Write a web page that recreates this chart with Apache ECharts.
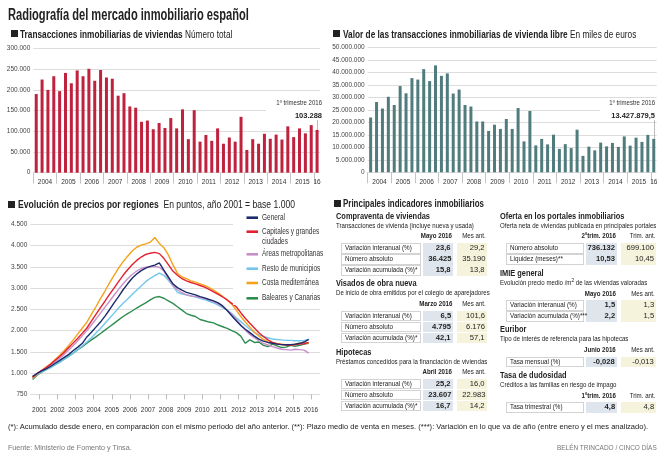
<!DOCTYPE html>
<html><head><meta charset="utf-8">
<script src="https://cdn.jsdelivr.net/npm/echarts@6/dist/echarts.min.js"></script>
<style>
html,body{margin:0;padding:0;background:#fff;}
#wrap{position:relative;width:664px;height:460px;overflow:hidden;font-family:'Liberation Sans',Arial,sans-serif;color:#222;}
#chart{position:absolute;left:0;top:0;width:664px;height:460px;}
.t{position:absolute;white-space:nowrap;line-height:12px;height:12px;}
.cell{position:absolute;box-sizing:border-box;}
</style></head>
<body><div id="wrap"><div id="chart"></div></div>
<script>
// ---------- DATA ----------
const quarterYears = ['2004','2005','2006','2007','2008','2009','2010','2011','2012','2013','2014','2015','16'];
const transacciones = [190000,225000,200000,233000,197000,241000,216000,247000,233000,251000,222000,248000,230000,227000,186000,192000,160000,157000,123000,126000,105000,120000,108000,132000,107000,153000,81000,151000,75000,91000,77000,107000,70000,85000,75000,135000,55000,81000,70000,94000,82000,92000,80000,112000,86000,107000,95000,115000,103288];
const valorTransacciones = [22000000,28200000,25600000,30300000,27000000,34600000,31700000,37800000,37200000,41400000,36600000,42900000,38700000,39700000,31600000,33200000,27000000,26400000,20400000,20400000,16600000,19100000,17400000,21400000,17400000,25800000,12400000,24600000,10800000,13400000,11200000,15100000,9400000,11300000,9700000,17100000,6600000,10300000,8800000,11900000,10400000,11800000,10200000,14400000,10700000,13900000,12200000,15000000,13427879.5];

const regionNames = ['General','Capitales y grandes ciudades','Áreas metropolitanas','Resto de municipios','Costa mediterránea','Baleares y Canarias'];
const regionColors = ['#1d2b6c','#e3202f','#c890c9','#72c7ea','#f6a11c','#2f8c4f'];
// quarterly readings, 2001 Q1 .. 2016 Q2
const general = [920,990,1050,1100, 1160,1230,1300,1370, 1440,1530,1610,1700, 1850,1960,2080,2200, 2340,2490,2650,2800, 2960,3100,3230,3330, 3410,3470,3510,3540, 3590,3420,3260,3100, 3010,2950,2900,2870, 2840,2800,2770,2730, 2700,2650,2580,2470, 2350,2230,2120,2030, 1950,1870,1800,1750, 1720,1700,1680,1670, 1665,1670,1680,1700, 1730,1790];
const capitales = [900,990,1060,1130, 1210,1300,1390,1490, 1600,1710,1820,1940, 2060,2220,2380,2540, 2690,2850,3000,3150, 3300,3430,3550,3650, 3730,3790,3820,3840, 3810,3700,3550,3400, 3300,3220,3170,3130, 3100,3060,3020,2970, 2910,2850,2790,2720, 2640,2560,2420,2290, 2170,2060,1950,1860, 1780,1720,1690,1670, 1660,1650,1670,1680, 1690,1720];
const areasMetro = [900,990,1060,1120, 1190,1270,1350,1440, 1540,1650,1760,1880, 2000,2130,2270,2410, 2550,2690,2830,2970, 3100,3220,3320,3400, 3460,3490,3500,3510, 3490,3400,3220,3060, 2960,2890,2840,2810, 2800,2780,2750,2720, 2680,2630,2560,2470, 2380,2260,2130,2010, 1910,1830,1760,1700, 1660,1620,1590,1560, 1550,1540,1560,1550, 1540,1470];
const restoMunicipios = [880,960,1020,1080, 1130,1190,1250,1320, 1390,1470,1550,1640, 1730,1830,1940,2050, 2170,2290,2410,2530, 2640,2740,2850,2950, 3050,3150,3230,3290, 3350,3300,3180,3050, 2900,2860,2840,2820, 2790,2760,2730,2690, 2650,2600,2540,2480, 2400,2300,2210,2120, 2030,1960,1900,1860, 1830,1800,1790,1780, 1770,1770,1760,1760, 1770,1790];
const costaMed = [880,980,1060,1140, 1220,1320,1420,1530, 1650,1780,1920,2060, 2200,2380,2560,2750, 2930,3120,3300,3470, 3620,3750,3870,3960, 4010,4040,4080,4190, 4050,3950,3780,3550, 3350,3260,3220,3170, 3140,3100,3060,3010, 2950,2880,2800,2720, 2620,2480,2330,2200, 2080,1960,1870,1790, 1730,1700,1690,1680, 1670,1660,1680,1700, 1700,1710];
const baleares = [850,950,1020,1080, 1140,1200,1260,1330, 1400,1470,1550,1620, 1700,1780,1850,1930, 2010,2090,2170,2250, 2330,2400,2460,2530, 2590,2650,2720,2780, 2800,2760,2700,2640, 2560,2480,2400,2360, 2330,2260,2230,2200, 2180,2130,2090,2050, 2000,1950,1870,1700, 1780,1720,1730,1650, 1620,1680,1640,1600, 1610,1650,1630,1650, 1680,1700];
const priceYearLabels = [2001,2002,2003,2004,2005,2006,2007,2008,2009,2010,2011,2012,2013,2014,2015,2016];

// tables
const compraventaHead = ['Mayo 2016','Mes ant.'];
const compraventaRows = [['Variación interanual (%)','23,6','29,2'],['Número absoluto','36.425','35.190'],['Variación acumulada (%)*','15,8','13,8']];
const visadosHead = ['Marzo 2016','Mes ant.'];
const visadosRows = [['Variación interanual (%)','6,5','101,6'],['Número absoluto','4.795','6.176'],['Variación acumulada (%)*','42,1','57,1']];
const hipotecasHead = ['Abril 2016','Mes ant.'];
const hipotecasRows = [['Variación interanual (%)','25,2','16,0'],['Número absoluto','23.607','22.983'],['Variación acumulada (%)*','16,7','14,2']];
const ofertaHead = ['2ºtrim. 2016','Trim. ant.'];
const ofertaRows = [['Número absoluto','736.132','699.100'],['Liquidez (meses)**','10,53','10,45']];
const imieHead = ['Mayo 2016','Mes ant.'];
const imieRows = [['Variación interanual (%)','1,5','1,3'],['Variación acumulada (%)***','2,2','1,5']];
const euriborHead = ['Junio 2016','Mes ant.'];
const euriborRows = [['Tasa mensual (%)','-0,028','-0,013']];
const dudosidadHead = ['1ºtrim. 2016','Trim. ant.'];
const dudosidadRows = [['Tasa trimestral (%)','4,8','4,8']];

// ---------- HTML TEXT ----------
const wrap = document.getElementById('wrap');
function txt(x, y, html, style, o){
  o = o || {};
  const d = document.createElement('div');
  d.className = 't';
  d.innerHTML = html;
  d.style.top = (y - 6) + 'px';
  if (o.right) { d.style.right = (664 - x) + 'px'; d.style.transformOrigin = 'right center'; }
  else { d.style.left = x + 'px'; d.style.transformOrigin = 'left center'; }
  if (style) d.style.cssText += style;
  wrap.appendChild(d);
  let sx = o.sx || 1;
  if (o.fit) sx = o.fit / d.offsetWidth;
  d.style.transform = 'scaleX(' + sx + ')';
  return d;
}
function box(x, y, w, h, style){
  const d = document.createElement('div');
  d.className = 'cell';
  d.style.left = x + 'px'; d.style.top = y + 'px'; d.style.width = w + 'px'; d.style.height = h + 'px';
  d.style.cssText += style;
  wrap.appendChild(d);
}
function header(sqx, y, tx, html, w){
  box(sqx, y - 3.5, 7, 7, 'background:#222;');
  txt(tx, y, html, 'font-size:11px;', {fit:w});
}
txt(7.5, 14.5, 'Radiografía del mercado inmobiliario español', 'font-size:16px;font-weight:bold;color:#222;', {fit:241});
header(10.5, 33.5, 20, '<b>Transacciones inmobiliarias de viviendas</b> <span style="font-weight:normal">Número total</span>', 212);
header(333, 33.5, 342.5, '<b>Valor de las transacciones inmobiliarias de vivienda libre</b> <span>En miles de euros</span>', 293);
header(8.3, 204, 17.7, '<b>Evolución de precios por regiones</b>&nbsp; <span>En puntos, año 2001 = base 1.000</span>', 277);
header(334, 203, 342.7, '<b>Principales indicadores inmobiliarios</b>', 141);

function table(x0, xl1, xb0, xb1, xc0, xc1, yTitle, title, sub, head, rows, yHead, yRow0){
  txt(x0, yTitle, title, 'font-size:9.5px;font-weight:bold;', {sx:0.78});
  txt(x0, yTitle + 10.3, sub, 'font-size:7px;', {sx:0.87});
  txt(xb1 - 1, yHead, head[0], 'font-size:7.5px;font-weight:bold;', {right:true, sx:0.82});
  txt(xc1 - 1, yHead, head[1], 'font-size:7.5px;', {right:true, sx:0.82});
  rows.forEach((r, i) => {
    const y = yRow0 + i * 11.2;
    box(xl1, y - 5, xb0 - xl1 - 2, 10.5, 'border:1px solid #d3d3d3;');
    box(xb0, y - 5, xb1 - xb0, 10.5, 'background:#dfe5ec;');
    box(xc0, y - 5, xc1 - xc0, 10.5, 'background:#f6f3dc;');
    txt(xl1 + 4, y, r[0], 'font-size:7px;', {sx:0.9});
    txt(xb1 - 2, y, r[1], 'font-size:8px;font-weight:bold;', {right:true, sx:0.95});
    txt(xc1 - 2, y, r[2], 'font-size:8px;', {right:true, sx:0.95});
  });
}
// left column
table(335.5, 341, 423, 453, 457, 487, 215.5, 'Compraventa de viviendas', 'Transacciones de vivienda (incluye nueva y usada)', compraventaHead, compraventaRows, 236, 248);
table(335.5, 341, 423, 453, 457, 487, 282.5, 'Visados de obra nueva', 'De inicio de obra emitidos por el colegio de aparejadores', visadosHead, visadosRows, 304, 315.5);
table(335.5, 341, 423, 453, 457, 487, 351.5, 'Hipotecas', 'Préstamos concedidos para la financiación de viviendas', hipotecasHead, hipotecasRows, 372, 383.5);
// right column
table(500, 506, 586, 617, 621, 656, 215.5, 'Oferta en los portales inmobiliarios', 'Oferta neta de viviendas publicada en principales portales', ofertaHead, ofertaRows, 236, 248);
table(500, 506, 586, 617, 621, 656, 272.5, 'IMIE general', 'Evolución precio medio /m<sup style="font-size:5.5px;line-height:0">2</sup> de las viviendas valoradas', imieHead, imieRows, 293.5, 305);
table(500, 506, 586, 617, 621, 656, 328.5, 'Euribor', 'Tipo de interés de referencia para las hipotecas', euriborHead, euriborRows, 350, 361.5);
table(500, 506, 586, 617, 621, 656, 375, 'Tasa de dudosidad', 'Créditos a las familias en riesgo de impago', dudosidadHead, dudosidadRows, 395.5, 407);

txt(8, 427, '(*): Acumulado desde enero, en comparación con el mismo periodo del año anterior. (**): Plazo medio de venta en meses. (***): Variación en lo que va de año (entre enero y el mes analizado).', 'font-size:7.5px;', {fit:640});
txt(8, 448, 'Fuente: Ministerio de Fomento y Tinsa.', 'font-size:7.5px;color:#777;', {fit:124});
txt(657, 448, 'BELÉN TRINCADO / CINCO DÍAS', 'font-size:7.5px;color:#777;', {right:true, fit:100});

// ---------- CHART ----------
const FONT = "'Liberation Sans',Arial,sans-serif";
const dots = v => String(v).replace(/\B(?=(\d{3})+(?!\d))/g, '.');
const chart = echarts.init(document.getElementById('chart'));
const yearTicks = quarterYears.map((y, i) => i * 4).filter(v => v < 49);
const yearLabelPos = quarterYears.map((y, i) => i < 12 ? i * 4 + 2 : 48.5);
const yearLabelFmt = v => quarterYears[v === 48.5 ? 12 : (v - 2) / 4];
const monthTimes = general.map((v, i) => 2001 + (i * 3 + 1.5) / 12);
const priceSeries = [general, capitales, areasMetro, restoMunicipios, costaMed, baleares];
const drawOrder = [5, 3, 2, 4, 1, 0];

function barXAxis(gi){
  return {type:'value', gridIndex:gi, min:0, max:49, axisLine:{show:false}, splitLine:{show:false},
    axisTick:{show:true, customValues:yearTicks, length:11, lineStyle:{color:'#c4c4c4', width:1}},
    axisLabel:{customValues:yearLabelPos, formatter:yearLabelFmt, fontSize:6.5, color:'#333', margin:6, fontFamily:FONT}};
}
function yAx(gi, max, interval, fmt){
  return {type:'value', gridIndex:gi, min:0, max:max, interval:interval, axisLine:{show:false}, axisTick:{show:false},
    splitLine:{lineStyle:{color:'#dcdcdc', width:1}},
    axisLabel:{formatter:fmt, fontSize:6.5, color:'#444', margin:3, fontFamily:FONT}};
}

const legendGraphic = [];
const legendY = [217.7, 231.7, 254.3, 268.7, 283, 298.3];
const legendText = ['General','Capitales y grandes\nciudades','Áreas metropolitanas','Resto de municipios','Costa mediterránea','Baleares y Canarias'];
legendGraphic.push({type:'rect', shape:{x:233, y:208, width:95, height:97}, style:{fill:'#fff'}, z:50});
legendText.forEach((t, i) => {
  legendGraphic.push({type:'rect', shape:{x:246.5, y:legendY[i] - 1.3, width:11.5, height:2.6}, style:{fill:regionColors[i]}, z:51});
  legendGraphic.push({type:'text', x:262, y:legendY[i] - 5.6, scaleX:0.72, style:{text:t, fill:'#333', font:'9px ' + FONT, lineHeight:10.6, textVerticalAlign:'top'}, z:51});
});

const option = {
  animation:false,
  textStyle:{fontFamily:FONT},
  grid:[
    {left:33.3, top:48.5, width:286.7, height:124.2},
    {left:367.7, top:47.7, width:289, height:124.6},
    {left:30.3, top:224.3, width:289.7, height:170}
  ],
  xAxis:[ barXAxis(0), barXAxis(1),
    {type:'value', gridIndex:2, min:2001, max:2017, axisLine:{show:false}, splitLine:{show:false},
     axisTick:{show:true, customValues:priceYearLabels.map(y => y + 0.5), length:5, lineStyle:{color:'#bbb'}},
     axisLabel:{customValues:priceYearLabels.map(y => y + 0.5), formatter:v => String(Math.floor(v)), fontSize:6.5, color:'#333', margin:12, fontFamily:FONT}}
  ],
  yAxis:[ yAx(0, 300000, 50000, dots), yAx(1, 50000000, 5000000, dots),
    Object.assign(yAx(2, 4500, 500, v => v === 500 ? '750' : dots(v)), {min:500}) ],
  series:[
    {type:'bar', xAxisIndex:0, yAxisIndex:0, barWidth:3, itemStyle:{color:'#c0213d'},
     data:transacciones.map((v, i) => [i + 0.5, v]),
     markLine:{silent:true, symbol:'none', label:{show:false}, lineStyle:{color:'#aaa', width:0.8, type:'solid'},
       data:[[{coord:[48.5, transacciones[48]]}, {coord:[48.5, 127000]}]]}},
    {type:'bar', xAxisIndex:1, yAxisIndex:1, barWidth:3, itemStyle:{color:'#517c7e'},
     data:valorTransacciones.map((v, i) => [i + 0.5, v]),
     markLine:{silent:true, symbol:'none', label:{show:false}, lineStyle:{color:'#aaa', width:0.8, type:'solid'},
       data:[[{coord:[48.5, valorTransacciones[48]]}, {coord:[48.5, 21000000]}]]}}
  ].concat(drawOrder.map(k => ({
    type:'line', name:regionNames[k], xAxisIndex:2, yAxisIndex:2, showSymbol:false, smooth:false,
    lineStyle:{color:regionColors[k], width:1.4}, itemStyle:{color:regionColors[k]},
    data:priceSeries[k].map((v, i) => [monthTimes[i], v])
  }))),
  graphic:[
    {type:'rect', shape:{x:266, y:98, width:57, height:22}, style:{fill:'#fff'}, z:50},
    {type:'text', x:322, y:103, scaleX:0.86, style:{text:'1º trimestre 2016', fill:'#333', font:'7px ' + FONT, textAlign:'right', textVerticalAlign:'middle'}, z:51},
    {type:'text', x:322, y:115.5, style:{text:'103.288', fill:'#222', font:'bold 7.5px ' + FONT, textAlign:'right', textVerticalAlign:'middle'}, z:51},
    {type:'rect', shape:{x:600, y:98, width:58, height:22}, style:{fill:'#fff'}, z:50},
    {type:'text', x:655, y:103, scaleX:0.86, style:{text:'1º trimestre 2016', fill:'#333', font:'7px ' + FONT, textAlign:'right', textVerticalAlign:'middle'}, z:51},
    {type:'text', x:655, y:115.5, style:{text:'13.427.879,5', fill:'#222', font:'bold 7.5px ' + FONT, textAlign:'right', textVerticalAlign:'middle'}, z:51}
  ].concat(legendGraphic)
};
chart.setOption(option);
</script>
</body></html>
